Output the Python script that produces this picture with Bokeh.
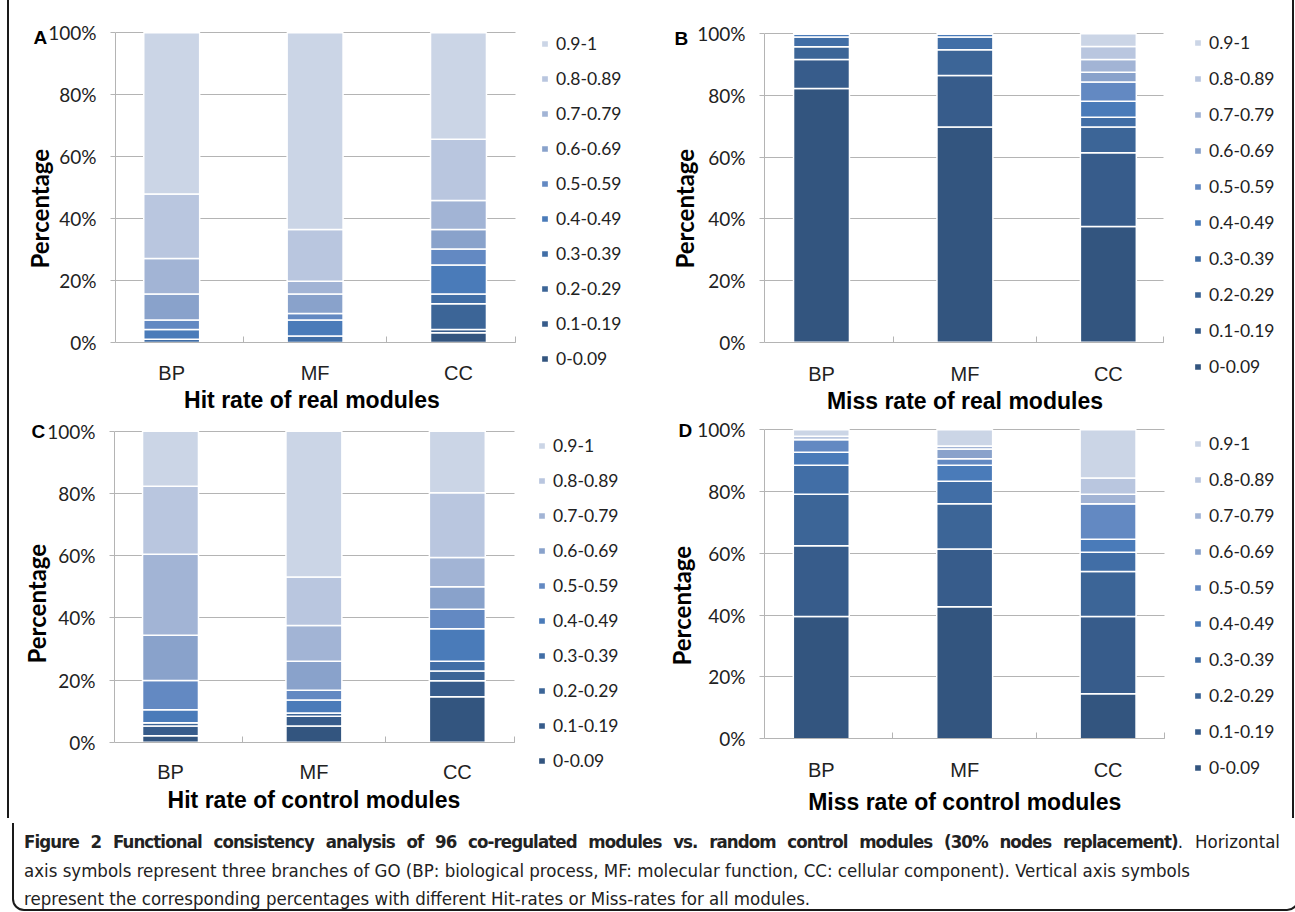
from bokeh.plotting import figure
from bokeh.models import (ColumnDataSource, Range1d, FixedTicker, Legend, LegendItem, Title, Div, Spacer)
from bokeh.core.properties import value
from bokeh.layouts import row, column
from bokeh.embed import file_html
from bokeh.resources import INLINE

# ---------------- data ----------------
categories = ["BP", "MF", "CC"]
bins = ["0-0.09", "0.1-0.19", "0.2-0.29", "0.3-0.39", "0.4-0.49",
        "0.5-0.59", "0.6-0.69", "0.7-0.79", "0.8-0.89", "0.9-1"]
y_ticks = [0, 20, 40, 60, 80, 100]
y_tick_labels = ["0%", "20%", "40%", "60%", "80%", "100%"]

# percentages of modules per rate bin (bins order as above)
hit_real_BP = [0, 0, 0, 1.04, 3.13, 3.13, 8.33, 11.46, 20.83, 52.08]
hit_real_MF = [0, 0, 0, 2.08, 5.21, 2.08, 6.25, 4.17, 16.67, 63.54]
hit_real_CC = [3.13, 1.04, 8.33, 3.13, 9.38, 5.21, 6.25, 9.38, 19.79, 34.36]

miss_real_BP = [82.29, 9.38, 4.17, 3.12, 1.04, 0, 0, 0, 0, 0]
miss_real_MF = [69.79, 16.67, 8.33, 4.17, 1.04, 0, 0, 0, 0, 0]
miss_real_CC = [37.5, 23.96, 8.33, 3.13, 5.21, 6.25, 3.13, 4.17, 4.17, 4.15]

hit_ctrl_BP = [2.08, 3.13, 1.04, 0, 4.17, 9.38, 14.58, 26.04, 21.88, 17.70]
hit_ctrl_MF = [5.21, 3.13, 1.04, 0, 4.17, 3.13, 9.38, 11.46, 15.63, 46.85]
hit_ctrl_CC = [14.58, 5.21, 3.13, 3.13, 10.42, 6.25, 7.29, 9.38, 20.83, 19.78]

miss_ctrl_BP = [39.58, 22.92, 16.67, 9.38, 4.17, 4.17, 0, 0, 1.04, 2.07]
miss_ctrl_MF = [42.71, 18.75, 14.58, 7.29, 5.21, 2.08, 3.13, 1.04, 0, 5.21]
miss_ctrl_CC = [14.58, 25.0, 14.58, 6.25, 4.17, 11.46, 0, 3.13, 5.21, 15.62]

colors = ["#33557f", "#375c8b", "#3c6597", "#416ea6", "#4a7bb9",
          "#6389c2", "#89a2cb", "#a2b4d5", "#b9c6df", "#cbd5e6"]

GRID = "#b4b4b4"
TXT = "#222222"
FRAME = "#1a1a1a"


def panel(letter, xtitle, series, g):
    data = {"x": list(range(len(categories)))}
    for i, b in enumerate(bins):
        data[b] = [s[i] for s in series]
    src = ColumnDataSource(data)

    xl, xr, xe = g["xl"], g["xr"], g["xe"]
    p = figure(width=g["w"], height=g["h"],
               x_range=Range1d(xl, xr), y_range=Range1d(g["yb"], g["yt"]),
               output_backend="svg", toolbar_location=None, title=None,
               min_border_left=g["l"], min_border_right=0,
               min_border_top=10, min_border_bottom=2)
    p.outline_line_color = None
    p.background_fill_color = "white"
    p.border_fill_color = "white"

    # horizontal grid, limited to the plot area
    p.ygrid.ticker = FixedTicker(ticks=y_ticks)
    p.ygrid.grid_line_color = GRID
    p.xgrid.visible = False
    try:
        p.ygrid.cross_bounds = (xl, xe)
    except Exception:
        p.ygrid.visible = False
        p.segment(x0=[xl] * len(y_ticks), x1=[xe] * len(y_ticks),
                  y0=y_ticks, y1=y_ticks, line_color=GRID, line_width=1)

    rs = p.vbar_stack(bins, x="x", width=0.39, color=colors, source=src,
                      line_color="white", line_width=1.5)

    # y axis
    ya = p.yaxis[0]
    ya.bounds = (0, 100)
    ya.ticker = FixedTicker(ticks=y_ticks, minor_ticks=[])
    ya.major_label_overrides = dict(zip(y_ticks, y_tick_labels))
    ya.major_label_text_font = "Lato"
    ya.major_label_text_font_size = "19px"
    ya.major_label_text_color = TXT
    ya.axis_line_color = GRID
    ya.major_tick_line_color = GRID
    ya.major_tick_out = 5
    ya.major_tick_in = 0
    ya.major_label_standoff = 14

    # x axis (line at 0% and category separator ticks)
    xa = p.xaxis[0]
    xa.fixed_location = 0
    xa.bounds = (xl, xe)
    xa.ticker = FixedTicker(ticks=[], minor_ticks=[0.5, 1.5, xe])
    xa.major_label_text_font_size = "0px"
    xa.major_label_standoff = 0
    xa.axis_line_color = GRID
    xa.major_tick_in = 0
    xa.major_tick_out = 0
    xa.minor_tick_in = 6
    xa.minor_tick_out = 0
    xa.minor_tick_line_color = GRID

    # category labels and axis title
    p.text(x=list(range(len(categories))), y=[g["ycat"]] * len(categories),
           text=categories, text_align="center", text_baseline="middle",
           text_font=value("Liberation Sans"), text_font_size="20px",
           text_color=TXT)
    p.text(x=[1], y=[g["ytit"]], text=[xtitle], text_align="center",
           text_baseline="middle", text_font=value("Liberation Sans"),
           text_font_style="bold", text_font_size="23px", text_color="black")

    items = [LegendItem(label=bins[i], renderers=[rs[i]])
             for i in range(len(bins) - 1, -1, -1)]
    leg = Legend(items=items, location=(g["lgx"], g["lgy"]),
                 glyph_width=9, glyph_height=9, label_height=20,
                 spacing=g["sp"], padding=0, margin=0, label_standoff=7,
                 border_line_color=None, background_fill_alpha=0,
                 label_text_font="Lato", label_text_font_size="17.5px",
                 label_text_color=TXT)
    p.add_layout(leg)

    p.add_layout(Title(text="Percentage", align="left", offset=g["po"],
                       standoff=g["ps"], vertical_align="bottom",
                       text_font="Lato", text_font_style="bold",
                       text_font_size="24px", text_color="black"), "left")

    p.add_layout(Title(text=letter, align="left", offset=g["lx"],
                       standoff=g["ly"], text_font="Liberation Sans",
                       text_font_style="bold", text_font_size="19px",
                       text_color="black"), "above")
    return p


gA = dict(w=641, h=416, l=106, xl=-0.392, xr=3.339, xe=2.397, yb=-23.25, yt=107.20,
          lgx=425, lgy=45.5, sp=14, lx=-82, ly=-74, po=146, ps=-16,
          ycat=-10.0, ytit=-18.7)
gB = dict(w=642, h=416, l=114, xl=-0.3975, xr=3.284, xe=2.385, yb=-23.44, yt=107.555,
          lgx=429, lgy=37, sp=15, lx=-90, ly=-77, po=146, ps=-8,
          ycat=-10.15, ytit=-19.1)
gC = dict(w=641, h=402, l=105, xl=-0.3905, xr=3.347, xe=2.40, yb=-23.89, yt=101.51,
          lgx=423, lgy=45.5, sp=14, lx=-83, ly=-30, po=153, ps=-12,
          ycat=-9.74, ytit=-18.7)
gD = dict(w=642, h=402, l=114, xl=-0.396, xr=3.286, xe=2.39, yb=-25.15, yt=101.07,
          lgx=429, lgy=38.5, sp=15, lx=-86, ly=-28, po=151, ps=-2,
          ycat=-9.94, ytit=-20.6)

pA = panel("A", "Hit rate of  real modules", [hit_real_BP, hit_real_MF, hit_real_CC], gA)
pB = panel("B", "Miss rate of real modules", [miss_real_BP, miss_real_MF, miss_real_CC], gB)
pC = panel("C", "Hit rate of control modules", [hit_ctrl_BP, hit_ctrl_MF, hit_ctrl_CC], gC)
pD = panel("D", "Miss rate of control modules", [miss_ctrl_BP, miss_ctrl_MF, miss_ctrl_CC], gD)


def vline(h):
    return Spacer(width=2, height=h, styles={"background-color": FRAME})


cap_font = ("font-family:'Liberation Sans Narrow','DejaVu Sans Condensed',sans-serif;"
            "font-size:18.5px;color:#222;white-space:nowrap;line-height:28.5px;")
caption_html = (
    f'<div style="box-sizing:border-box;width:1287px;height:88px;'
    f'border:2px solid {FRAME};border-top:none;border-radius:0 0 12px 12px;'
    f'padding:5px 0 0 10px;{cap_font}">'
    '<div style="width:1256px;text-align:justify;text-align-last:justify;">'
    '<b style="letter-spacing:-0.9px;">Figure 2 Functional consistency analysis of 96 co-regulated '
    'modules vs. random control modules (30% nodes replacement)</b>. Horizontal</div>'
    '<div>axis symbols represent three branches of GO (BP: biological process, MF: molecular '
    'function, CC: cellular component). Vertical axis symbols</div>'
    '<div>represent the corresponding percentages with different Hit-rates or Miss-rates for all modules.</div>'
    '</div>'
)
caption = Div(text=caption_html, width=1287, height=88)

body = column(row(vline(416), pA, pB, vline(416)),
              row(vline(402), pC, pD, vline(402)),
              caption)
layout = row(Spacer(width=7, height=10), body)

open("out.html", "w").write(file_html(layout, INLINE))
